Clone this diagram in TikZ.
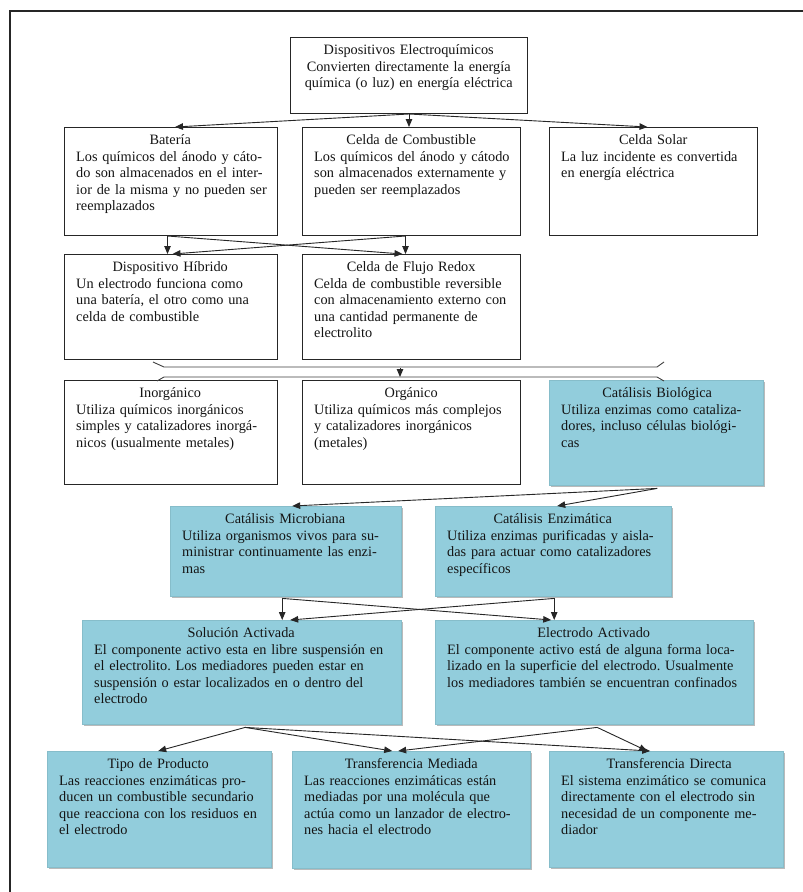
\documentclass[tikz,border=0pt]{standalone}
\usepackage{fontspec}
\setmainfont{Liberation Serif}
\usetikzlibrary{arrows.meta,shadows}
\definecolor{bluefill}{RGB}{146,205,220}
\frenchspacing
\tikzset{
 wbox/.style={draw=black!85, line width=1pt, fill=white, inner sep=0pt},
 bbox/.style={fill=bluefill, draw=bluefill!92!black, line width=0.4pt, inner sep=0pt,
   drop shadow={shadow xshift=1.6pt, shadow yshift=-1.6pt, opacity=0.45, fill=black!60}},
 txt/.style={inner sep=0pt, align=left, font=\fontsize{14.3}{16.5}\selectfont\frenchspacing, text=black!92},
 conn/.style={draw=black!85, line width=0.9pt, -{Triangle[length=8pt,width=6.5pt]}},
 brace/.style={draw=black!75, line width=0.9pt},
 frame/.style={draw=black!85, line width=2pt},
}
\newcommand{\ttl}[1]{\noindent\makebox[\hsize][c]{\strut#1}}
\newcommand{\cl}[1]{\makebox[\hsize][c]{#1}}
\newcommand{\jl}[1]{\makebox[\hsize][s]{#1}}
% #1 style #2 name #3 x #4 y #5 w #6 h #7 text width #8 content
\newcommand{\bx}[8]{%
  \node[#1, minimum width=#5pt, minimum height=#6pt, anchor=north west] (#2) at (#3,#4) {};
  \node[txt, text width=#7pt, anchor=north west] (#2-t) at ([xshift=12pt,yshift=-6pt]#2.north west) {#8};
}
\begin{document}
\begin{tikzpicture}[x=1pt,y=-1pt]
\useasboundingbox (0,0) rectangle (803,892);
\fill[white] (0,0) rectangle (803,892);
% frame (only top and left edges visible)
\coordinate (fbl) at (10,892);
\coordinate (ftl) at (10,11);
\coordinate (ftr) at (803,11);
\draw[frame] (fbl) -- (ftl) -- (ftr);

\bx{wbox}{top}{290}{37}{237}{76}{213}{\ttl{Dispositivos Electroquímicos}\\\cl{Convierten directamente la energía}\\\cl{química (o luz) en energía eléctrica}}

\bx{wbox}{bat}{64}{127}{213}{108}{188}{\ttl{Batería}\\\jl{Los químicos del ánodo y cáto-}\\\jl{do son almacenados en el inter-}\\\jl{ior de la misma y no pueden ser}\\reemplazados}
\bx{wbox}{comb}{302}{127}{218}{108}{194}{\ttl{Celda de Combustible}\\\jl{Los químicos del ánodo y cátodo}\\\jl{son almacenados externamente y}\\pueden ser reemplazados}
\bx{wbox}{solar}{549}{127}{208}{108}{184}{\ttl{Celda Solar}\\\jl{La luz incidente es convertida}\\en energía eléctrica}

\bx{wbox}{hib}{64}{254}{213}{105}{188}{\ttl{Dispositivo Híbrido}\\\jl{Un electrodo funciona como}\\\jl{una batería, el otro como una}\\celda de combustible}
\bx{wbox}{flujo}{302}{254}{218}{105}{194}{\ttl{Celda de Flujo Redox}\\\jl{Celda de combustible reversible}\\\jl{con almacenamiento externo con}\\\jl{una cantidad permanente de}\\electrolito}

\bx{wbox}{inorg}{64}{380}{213}{104}{188}{\ttl{Inorgánico}\\\jl{Utiliza químicos inorgánicos}\\\jl{simples y catalizadores inorgá-}\\nicos (usualmente metales)}
\bx{wbox}{org}{302}{380}{218}{104}{194}{\ttl{Orgánico}\\\jl{Utiliza químicos más complejos}\\\jl{y catalizadores inorgánicos}\\(metales)}
\bx{bbox}{bio}{549}{380}{214}{105}{192}{\ttl{Catálisis Biológica}\\\jl{Utiliza enzimas como cataliza-}\\\jl{dores, incluso células biológi-}\\cas}

\bx{bbox}{micro}{170}{506}{231}{90}{206}{\ttl{Catálisis Microbiana}\\\jl{Utiliza organismos vivos para su-}\\\jl{ministrar continuamente las enzi-}\\mas}
\bx{bbox}{enz}{435}{506}{236}{90}{211}{\ttl{Catálisis Enzimática}\\\jl{Utiliza enzimas purificadas y aisla-}\\\jl{das para actuar como catalizadores}\\específicos}

\bx{bbox}{sol}{82}{620}{319}{104}{294}{\ttl{Solución Activada}\\\jl{El componente activo esta en libre suspensión en}\\\jl{el electrolito. Los mediadores pueden estar en}\\\jl{suspensión o estar localizados en o dentro del}\\electrodo}
\bx{bbox}{elec}{435}{620}{318}{104}{293}{\ttl{Electrodo Activado}\\\jl{El componente activo está de alguna forma loca-}\\\jl{lizado en la superficie del electrodo. Usualmente}\\los mediadores también se encuentran confinados}

\bx{bbox}{tipo}{47}{751}{224}{116}{198}{\ttl{Tipo de Producto}\\\jl{Las reacciones enzimáticas pro-}\\\jl{ducen un combustible secundario}\\\jl{que reacciona con los residuos en}\\el electrodo}
\bx{bbox}{med}{292}{751}{238}{117}{214}{\ttl{Transferencia Mediada}\\\jl{Las reacciones enzimáticas están}\\\jl{mediadas por una molécula que}\\\jl{actúa como un lanzador de electro-}\\nes hacia el electrodo}
\bx{bbox}{dir}{549}{751}{234}{116}{216}{\ttl{Transferencia Directa}\\\jl{El sistema enzimático se comunica}\\\jl{directamente con el electrodo sin}\\\jl{necesidad de un componente me-}\\diador}

% connectors row 1
\draw[conn] (top.south) -- ([xshift=4pt]bat.north);
\draw[conn] (top.south) -- (top.south |- comb.north);
\draw[conn] (top.south) -- ([xshift=-6pt]solar.north);
% row 2
\coordinate (batB) at ([xshift=-3.5pt]bat.south);
\coordinate (combB) at ([xshift=-6pt]comb.south);
\draw[conn] (batB) -- (batB |- hib.north);
\draw[conn] (batB) -- ([xshift=-9pt]flujo.north);
\draw[conn] (combB) -- (combB |- flujo.north);
\draw[conn] (combB) -- ([xshift=1.5pt]hib.north);
% brace between row 2 and row 3
\coordinate (b1) at (153,362);
\coordinate (b2) at (164,367);
\coordinate (b3) at (657,367);
\coordinate (b4) at (664,362);
\coordinate (c1) at (157,381);
\coordinate (c2) at (164,377);
\coordinate (c3) at (657,377);
\coordinate (c4) at (664,381);
\draw[brace] (b1) -- (b2) -- (b3) -- (b4);
\draw[brace] (c1) -- (c2) -- (c3) -- (c4);
\coordinate (ar1) at (400,368);
\coordinate (ar2) at (400,377);
\draw[conn] (ar1) -- (ar2);
% biological
\coordinate (bioB) at ([xshift=1pt,yshift=-3pt]bio.south);
\draw[conn] (bioB) -- ([xshift=6.5pt]micro.north);
\draw[conn] (bioB) -- ([xshift=4pt]enz.north);
% micro / enz
\coordinate (microB) at ([xshift=-3.5pt,yshift=-2pt]micro.south);
\coordinate (enzB) at ([xshift=1pt,yshift=-2pt]enz.south);
\draw[conn] (microB) -- (microB |- sol.north);
\draw[conn] (microB) -- ([xshift=-43pt]elec.north);
\draw[conn] (enzB) -- (enzB |- elec.north);
\draw[conn] (enzB) -- ([xshift=48.5pt]sol.north);
% sol / elec
\coordinate (solB) at ([xshift=3.5pt,yshift=-3pt]sol.south);
\coordinate (elecB) at ([xshift=3pt,yshift=-3pt]elec.south);
\draw[conn] (solB) -- ([xshift=-1pt]tipo.north);
\draw[conn] (solB) -- ([xshift=-19pt]med.north);
\draw[conn] (solB) -- ([xshift=-16pt]dir.north);
\draw[conn] (elecB) -- ([xshift=-13pt]med.north);
\draw[conn] (elecB) -- ([xshift=-19pt]dir.north);
\end{tikzpicture}
\end{document}
